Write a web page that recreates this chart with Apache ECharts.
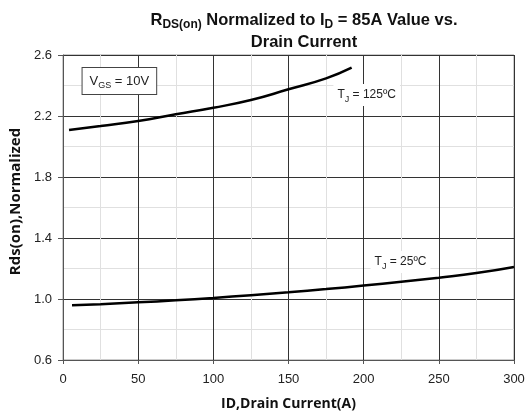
<!DOCTYPE html>
<html>
<head>
<meta charset="utf-8">
<script src="https://cdn.jsdelivr.net/npm/echarts@6/dist/echarts.min.js"></script>
<style>
  html, body { margin: 0; padding: 0; background: #fff; }
  #chart { width: 526px; height: 414px; }
</style>
</head>
<body>
<div id="chart"></div>
<script>
// Tj = 125C curve
const id125 = [4, 25, 50, 75, 100, 125, 150, 175, 192]
const rds125 = [2.108, 2.134, 2.167, 2.211, 2.254, 2.305, 2.375, 2.447, 2.517]
// Tj = 25C curve
const id25 = [6, 25, 50, 75, 100, 125, 150, 175, 200, 225, 250, 275, 300]
const rds25 = [0.959, 0.966, 0.978, 0.991, 1.007, 1.025, 1.044, 1.065, 1.088, 1.113, 1.14, 1.17, 1.21]

const font = 'Liberation Sans, Arial, sans-serif'

function pairs(xs, ys) {
  return xs.map((x, i) => [x, ys[i]])
}

function subRich(size) {
  return {
    n: { fontFamily: font, fontSize: size, color: '#222', lineHeight: 18 },
    s: { fontFamily: font, fontSize: 9, color: '#222', lineHeight: 12, verticalAlign: 'bottom' },
  }
}

// text note pinned to a data coordinate
function note(coord, formatter, size, boxed) {
  return {
    coord,
    symbol: 'circle',
    symbolSize: 1,
    itemStyle: { color: 'rgba(0,0,0,0)' },
    label: {
      show: true,
      position: 'inside',
      formatter,
      backgroundColor: '#fff',
      borderColor: boxed ? '#444' : 'transparent',
      borderWidth: boxed ? 1 : 0,
      padding: boxed ? [4, 7] : [2, 4],
      rich: subRich(size),
    },
  }
}

const chart = echarts.init(document.getElementById('chart'))
chart.setOption({
  backgroundColor: '#fff',
  animation: false,
  title: {
    left: 299,
    textAlign: 'center',
    top: 4,
    text: '{b|R}{s|DS(on)}{b| Normalized to I}{s|D}{b| = 85A Value vs.}\n{b|Drain Current}',
    textStyle: {
      rich: {
        b: { fontFamily: font, fontWeight: 'bold', fontSize: 16.5, color: '#111', lineHeight: 22 },
        s: { fontFamily: font, fontWeight: 'bold', fontSize: 12, color: '#111', lineHeight: 15, verticalAlign: 'bottom' },
      },
    },
  },
  grid: {
    left: 63, right: 12, top: 55, bottom: 54,
    outerBoundsMode: 'none',
    show: true, borderColor: '#999', borderWidth: 1,
  },
  xAxis: {
    type: 'value',
    min: 0,
    max: 300,
    interval: 50,
    name: 'ID,Drain Current(A)',
    nameLocation: 'middle',
    nameGap: 37,
    nameTextStyle: { fontFamily: 'Open Sans, sans-serif', fontWeight: 'bold', fontSize: 14, color: '#111' },
    axisLine: { lineStyle: { color: '#555' } },
    axisTick: { show: true, length: 4, lineStyle: { color: '#555' } },
    axisLabel: { fontFamily: font, fontSize: 13, color: '#222', margin: 13 },
    splitLine: { lineStyle: { color: '#333', width: 1 } },
    minorTick: { show: false, splitNumber: 2 },
    minorSplitLine: { show: true, lineStyle: { color: '#e0e0e0' } },
  },
  yAxis: {
    type: 'value',
    min: 0.6,
    max: 2.6,
    interval: 0.4,
    name: 'Rds(on),Normalized',
    nameLocation: 'middle',
    nameGap: 34,
    nameTextStyle: { fontFamily: 'Open Sans, sans-serif', fontWeight: 'bold', fontSize: 15, color: '#111', padding: [0, 0, 0, 12] },
    axisLine: { show: true, lineStyle: { color: '#555' } },
    axisTick: { show: true, length: 5, lineStyle: { color: '#555' } },
    axisLabel: { fontFamily: font, fontSize: 13, color: '#222', margin: 11, formatter: v => v.toFixed(1) },
    splitLine: { lineStyle: { color: '#333', width: 1 } },
    minorTick: { show: false, splitNumber: 2 },
    minorSplitLine: { show: true, lineStyle: { color: '#e0e0e0' } },
  },
  series: [
    {
      type: 'line',
      data: pairs(id125, rds125),
      smooth: true,
      symbol: 'none',
      lineStyle: { color: '#000', width: 2.5 },
      markPoint: {
        silent: true,
        data: [
          note([202, 2.338], '{n|T}{s|J}{n| = 125ºC}', 12, false),
          note([37.5, 2.43], '{n|V}{s|GS}{n| = 10V}', 13, true),
        ],
      },
    },
    {
      type: 'line',
      data: pairs(id25, rds25),
      smooth: true,
      symbol: 'none',
      lineStyle: { color: '#000', width: 2.5 },
      markPoint: {
        silent: true,
        data: [note([224.5, 1.243], '{n|T}{s|J}{n| = 25ºC}', 12, false)],
      },
    },
  ],
})
</script>
</body>
</html>
